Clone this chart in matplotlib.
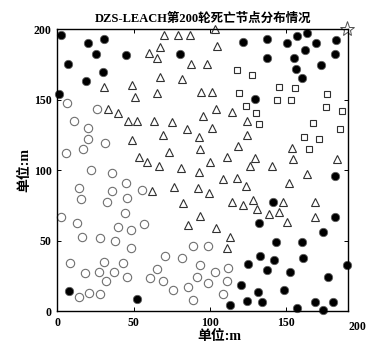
#!/usr/bin/env python3
# coding: utf-8

import matplotlib
matplotlib.use('Agg')
import matplotlib.pyplot as plt

# dead nodes (filled circles)
dead_x = [2.3, 20.2, 30.7, 25.1, 44.8, 7.1, 30.1, 18.5, 1.0, 80.7,
          122.1, 137.5, 151.0, 157.6, 164.1, 169.8, 183.0, 182.5, 162.6, 137.5,
          155.4, 172.9, 156.7, 160.6, 129.6, 7.6, 52.0, 182.3, 141.4, 182.3,
          132.6, 174.6, 143.6, 160.4, 133.0, 142.2, 161.1, 125.0, 137.5, 152.8,
          190.4, 177.9, 120.4, 131.9, 148.8, 113.3, 124.7, 134.4, 157.2, 169.2,
          174.6, 180.8]
dead_y = [196.0, 190.3, 193.1, 182.1, 181.8, 175.2, 169.5, 163.3, 154.1, 182.1,
          190.8, 192.7, 190.3, 195.0, 197.4, 190.3, 192.0, 182.5, 184.9, 179.6,
          179.6, 174.3, 171.8, 165.2, 150.1, 14.2, 8.5, 96.0, 77.5, 66.9,
          62.2, 55.8, 49.1, 49.1, 39.2, 36.2, 37.8, 33.3, 29.1, 27.9,
          32.6, 24.3, 18.4, 13.7, 14.9, 4.3, 7.1, 6.2, 2.3, 6.2,
          0.5, 6.6]

# cluster 1 (open circles)
circ_x = [6.2, 26.1, 11.0, 20.2, 20.2, 17.0, 31.2, 5.4, 22.3, 36.0,
          44.8, 14.1, 36.0, 55.3, 15.4, 32.3, 45.5, 44.3, 2.3, 12.8,
          39.6, 48.3, 56.8, 16.3, 27.9, 37.8, 48.3, 89.2, 98.9, 70.6,
          82.0, 94.0, 8.2, 30.7, 43.2, 18.1, 27.3, 37.3, 31.7, 45.5,
          65.2, 60.8, 69.5, 91.5, 76.1, 85.5, 89.2, 14.1, 20.7, 27.9,
          103.5, 112.2, 99.1, 111.2, 108.9]
circ_y = [147.7, 143.0, 135.0, 129.8, 121.8, 114.7, 119.4, 112.1, 99.9, 97.7,
          90.6, 87.4, 85.1, 85.8, 79.4, 77.1, 80.4, 69.3, 66.9, 62.6,
          59.8, 57.4, 61.7, 52.7, 52.0, 49.6, 44.5, 46.3, 46.3, 39.2,
          37.4, 33.0, 33.8, 35.0, 33.8, 26.7, 27.4, 27.4, 21.3, 24.3,
          29.8, 23.2, 21.5, 24.3, 14.9, 17.2, 7.8, 10.1, 12.6, 11.8,
          27.4, 30.7, 19.6, 21.3, 11.8]

# cluster 2 (open triangles)
tri_x = [70.2, 79.4, 87.1, 60.3, 67.3, 65.2, 87.7, 30.7, 49.1, 50.9,
         67.3, 82.0, 65.6, 94.3, 33.0, 39.9, 46.1, 52.0, 63.4, 75.0,
         84.9, 93.3, 49.1, 69.5, 73.3, 94.0, 53.7, 58.6, 66.7, 81.1,
         95.6, 103.5, 104.6, 98.0, 101.3, 104.1, 114.5, 101.3, 124.3, 124.7,
         118.8, 111.2, 129.8, 153.9, 154.9, 183.4, 100.2, 126.5, 140.9, 93.3,
         62.3, 76.7, 92.1, 82.7, 93.6, 85.5, 117.7, 108.5, 123.8, 99.7,
         114.5, 122.1, 128.6, 148.4, 130.9, 139.2, 145.7, 151.0, 152.3, 163.7,
         169.2, 169.2, 104.1, 113.3, 111.2]
tri_y = [196.0, 195.5, 195.5, 183.2, 187.2, 179.4, 175.0, 158.7, 160.1, 151.8,
         166.0, 164.3, 154.8, 155.3, 143.0, 140.6, 134.8, 134.8, 135.0, 134.0,
         128.9, 123.8, 121.1, 124.6, 112.8, 115.2, 109.2, 105.7, 102.8, 101.8,
         138.3, 200.0, 187.9, 175.4, 155.3, 143.0, 141.1, 129.8, 134.5, 124.6,
         117.0, 109.2, 108.5, 115.6, 107.6, 108.0, 105.7, 103.2, 103.2, 98.8,
         85.1, 88.2, 87.0, 76.4, 67.4, 61.0, 94.5, 93.6, 88.9, 83.5,
         77.5, 75.2, 78.7, 77.1, 72.3, 68.6, 70.0, 62.9, 90.6, 97.0,
         77.1, 66.9, 59.1, 52.7, 44.9]

# cluster 3 (open squares)
sq_x = [117.7, 127.6, 119.4, 145.7, 156.0, 144.4, 153.2, 177.3, 176.4, 186.9,
        123.7, 130.4, 132.6, 168.1, 185.6, 162.2, 172.0, 165.0]
sq_y = [170.7, 167.6, 154.4, 158.9, 158.2, 149.4, 149.4, 154.1, 144.7, 141.8,
        145.4, 140.6, 132.6, 133.5, 128.9, 123.4, 121.8, 114.7]

# base station
bs_x = [190]
bs_y = [200]

ticks = [0, 50, 100, 150]
title = 'DZS-LEACH第200轮死亡节点分布情况'
label = '单位:m'


def main():
    plt.rcParams['font.family'] = ['Liberation Serif', 'Noto Sans CJK SC']

    fig = plt.figure(figsize=(3.68, 3.46), dpi=100)
    ax = fig.add_axes([0.156, 0.101, 0.790, 0.815])

    ax.plot(circ_x, circ_y, 'o', ms=6, mfc='white', mec='#707070', mew=0.8,
            clip_on=False)
    ax.plot(tri_x, tri_y, '^', ms=6, mfc='white', mec='#303030', mew=0.8,
            clip_on=False)
    ax.plot(sq_x, sq_y, 's', ms=4.5, mfc='white', mec='#303030', mew=0.8,
            clip_on=False)
    ax.plot(dead_x, dead_y, 'o', ms=6, mfc='black', mec='#606060', mew=0.6,
            clip_on=False)
    ax.plot(bs_x, bs_y, '*', ms=11, mfc='white', mec='#505050', mew=0.7,
            clip_on=False)

    ax.set_xlim(0, 191)
    ax.set_ylim(0, 200)
    ax.set_xticks(ticks)
    ax.set_yticks(ticks + [200])
    ax.tick_params(direction='in', length=3, width=0.7, top=True, right=True,
                   labelsize=8.5, pad=4)
    for t in ax.get_xticklabels() + ax.get_yticklabels():
        t.set_fontweight('bold')
    # last x tick label sits past the frame in the original
    ax.annotate('200', xy=(200, 0), xycoords=('data', 'axes fraction'),
                xytext=(-3, -7), textcoords='offset points', ha='center',
                va='top', fontsize=8.5, fontweight='bold',
                annotation_clip=False)

    for s in ax.spines.values():
        s.set_linewidth(1.0)

    ax.set_title(title, fontsize=9, fontweight='bold', pad=5)
    ax.set_xlabel(label, fontsize=10, fontweight='bold', labelpad=1)
    ax.set_ylabel(label, fontsize=10, fontweight='bold', labelpad=2)
    ax.xaxis.set_label_coords(0.556, -0.065)

    fig.savefig('out.png', dpi=100)


if __name__ == '__main__':
    main()
